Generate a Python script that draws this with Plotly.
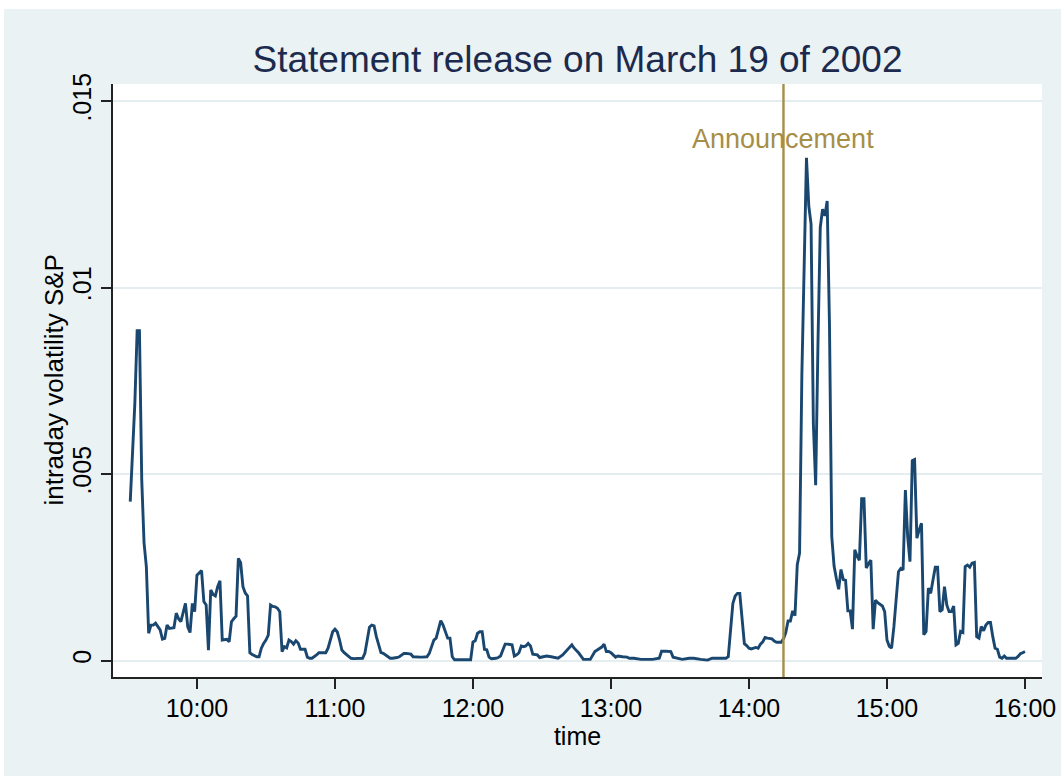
import pandas as pd
import plotly.graph_objects as go

# Minutes after 09:30 on 19 March 2002 and the intraday S&P volatility at each
minutes = [
    1, 3, 4, 5, 6, 7, 8, 9, 10, 11, 12, 13, 14, 15, 16, 17, 18, 19, 20,
    21, 22, 23, 24, 25, 26, 27, 28, 29, 30, 31, 32, 33, 34, 35, 36, 37, 38, 39, 40,
    41, 42, 43, 44, 45, 46, 47, 48, 49, 50, 51, 52, 53, 54, 55, 56, 57, 58, 59, 60,
    61, 62, 63, 64, 65, 66, 67, 68, 69, 70, 71, 72, 73, 74, 75, 76, 77, 78, 79, 80,
    81, 82, 83, 84, 85, 86, 87, 88, 89, 90, 91, 92, 93, 94, 95, 96, 97, 98, 99, 100,
    101, 102, 103, 104, 105, 106, 107, 108, 109, 110, 111, 112, 113, 114, 115, 116,
    117, 118, 119, 120, 121, 122, 123, 124, 125, 126, 127, 128, 129, 130,
    131, 132, 133, 134, 135, 136, 137, 138, 139, 140, 141, 142, 149, 150,
    151, 152, 153, 154, 155, 156, 157, 158, 159, 160, 161, 162, 163, 164, 165, 166,
    167, 168, 169, 170, 171, 172, 173, 174, 175, 176, 177, 178, 179, 180, 182, 184,
    186, 187, 189, 191, 193, 194, 196, 198, 201, 203, 204, 205, 206, 207, 208, 209,
    210, 212, 213, 215, 217, 218, 220, 223, 225, 228, 231, 232, 234, 236, 237, 239,
    241, 244, 246, 249, 252, 254, 257, 260, 261, 262, 263, 264, 265, 266, 267, 268,
    269, 270, 271, 272, 273, 274, 275, 276, 277, 278, 279, 280, 281, 282, 283, 284,
    285, 286, 287, 288, 289, 290, 291, 292, 293, 294, 295, 296, 297, 298, 299, 300,
    301, 302, 303, 304, 305, 306, 307, 308, 309, 310, 311, 312, 313, 314, 315, 316,
    317, 318, 319, 320, 321, 322, 323, 324, 325, 326, 327, 328, 329, 330, 331, 332,
    333, 334, 335, 336, 337, 338, 339, 340, 341, 342, 343, 344, 345, 346, 347, 348,
    349, 350, 351, 352, 353, 354, 355, 356, 357, 358, 359, 360, 361, 362, 363, 364,
    365, 366, 367, 368, 369, 370, 371, 372, 373, 374, 375, 376, 377, 378, 379, 380,
    381, 382, 384, 386, 387, 388, 389, 390,
]
volatility = [
    .00426, .0069, .00884, .00884, .00484, .00315, .00252, .00073, .00095, .00095,
    .00100, .00090, .00082, .00057, .00059, .00095, .00086, .00087, .00088,
    .00127, .00112, .00104, .00125, .00153, .00090, .00075, .00153, .00131, .00229,
    .00236, .00241, .00158, .00149, .00028, .00189, .00177, .00173, .00198, .00214,
    .00055, .00056, .00057, .00050, .00104, .00112, .00119, .00274, .00262, .00198,
    .00181, .00173, .00021, .00016, .00012, .00010, .00010, .00033, .00046, .00055,
    .00068, .00149, .00145, .00144, .00140, .00131, .00024, .00037, .00034, .00055,
    .00051, .00044, .00053, .00047, .00030, .00030, .00030, .00009, .00006, .00006,
    .00010, .00015, .00021, .00021, .00021, .00021, .00033, .00055, .00077, .00084,
    .00077, .00055, .00028, .00021, .00016, .00012, .00006, .00005, .00005, .00005,
    .00005, .00006, .00019, .00055, .00089, .00095, .00093, .00064, .00040, .00021,
    .00019, .00015, .00010, .00006, .00006, .00006,
    .00008, .00010, .00015, .00019, .00019, .00018, .00017, .00010, .00009, .00009,
    .00009, .00009, .00009, .00010,
    .00019, .00037, .00055, .00060, .00085, .00107, .00095, .00077, .00060, .00060,
    .00010, .00002, .00002, .00050,
    .00053, .00073, .00077, .00077, .00030, .00029, .00009, .00005, .00005, .00006,
    .00008, .00012, .00028, .00044, .00044, .00043,
    .00042, .00012, .00015, .00021, .00039, .00037, .00039, .00046, .00039, .00017,
    .00016, .00015, .00008, .00009, .00012, .00010,
    .00006, .00006, .00015, .00028, .00042, .00033, .00020, .00003, .00003, .00024,
    .00028, .00033, .00036, .00044, .00024, .00024,
    .00021, .00009, .00012, .00010, .00009, .00006, .00006, .00003, .00003, .00003,
    .00006, .00025, .00025, .00024, .00009, .00006,
    .00003, .00006, .00006, .00003, .00001, .00006, .00006, .00006, .00010, .00090,
    .00153, .00173, .00180, .00180, .00100, .00045,
    .00040, .00033, .00031, .00033, .00035, .00033, .00044, .00050, .00062, .00060,
    .00058, .00058, .00052, .00049, .00049, .00049,
    .00058, .00075, .00106, .00106, .00133, .00120, .00257, .00288, .00767, .01100,
    .01348, .01219, .01170, .00634, .00470, .00850,
    .01161, .01210, .01192, .01232, .00900, .00332, .00253, .00220, .00191, .00244,
    .00217, .00215, .00133, .00133, .00084, .00297,
    .00280, .00269, .00434, .00434, .00248, .00260, .00269, .00084, .00162, .00155,
    .00151, .00146, .00131, .00055, .00038, .00033,
    .00090, .00171, .00238, .00247, .00243, .00457, .00332, .00265, .00536, .00539,
    .00328, .00350, .00368, .00069, .00078, .00194,
    .00180, .00216, .00250, .00250, .00131, .00136, .00198, .00149, .00131, .00131,
    .00146, .00042, .00046, .00078, .00075, .00252,
    .00256, .00250, .00261, .00263, .00064, .00060, .00091, .00080, .00095, .00102,
    .00102, .00064, .00033, .00030, .00009, .00006,
    .00012, .00006, .00006, .00006, .00011, .00018, .00021, .00024,
]

session_open = "2002-03-19 09:30"
announcement_time = "2002-03-19 14:15"
x_ticks = ["10:00", "11:00", "12:00", "13:00", "14:00", "15:00", "16:00"]
y_ticks = [0, 0.005, 0.01, 0.015]
y_tick_text = ["0", ".005", ".01", ".015"]

times = pd.Timestamp(session_open) + pd.to_timedelta(minutes, unit="min")
tick_vals = [pd.Timestamp("2002-03-19 " + t) for t in x_ticks]

FONT = "Liberation Sans, Arial, sans-serif"
NAVY = "#1A476F"
GOLD = "#A68E47"
BG = "#EAF2F3"

W, H = 1061, 776
L, R, T, B = 113, 1042, 84, 677
pw, ph = R - L, B - T

fig = go.Figure()
fig.add_trace(go.Scatter(
    x=times, y=volatility, mode="lines",
    line=dict(color=NAVY, width=2.9), showlegend=False,
))

fig.add_shape(
    type="line", xref="x", yref="paper",
    x0=announcement_time, x1=announcement_time, y0=0, y1=1,
    line=dict(color=GOLD, width=2.4),
)
fig.add_annotation(
    x=announcement_time, y=0.01398, xref="x", yref="y",
    text="Announcement", showarrow=False,
    font=dict(family=FONT, size=27, color=GOLD),
    xanchor="center", yanchor="middle",
)

# y-axis title, placed to the left of the rotated tick labels
fig.add_annotation(
    x=(53 - L) / pw, y=0.5, xref="paper", yref="paper",
    text="intraday volatility S&P", textangle=-90, showarrow=False,
    font=dict(family=FONT, size=26, color="black"),
    xanchor="center", yanchor="middle",
)

# white margin strips along the top and left edges of the page
fig.add_shape(type="rect", xref="paper", yref="paper",
              x0=-L / pw - 0.01, x1=(W - L) / pw + 0.01,
              y0=(B - 9) / ph, y1=(B + 5) / ph,
              fillcolor="white", line_width=0, layer="above")
fig.add_shape(type="rect", xref="paper", yref="paper",
              x0=-L / pw - 0.01, x1=(4 - L) / pw,
              y0=(B - H) / ph - 0.01, y1=(B + 5) / ph,
              fillcolor="white", line_width=0, layer="above")

fig.update_layout(
    width=W, height=H,
    margin=dict(l=L, r=W - R, t=T, b=H - B, pad=0, autoexpand=False),
    paper_bgcolor=BG, plot_bgcolor="white",
    font=dict(family=FONT, color="black"),
    title=dict(
        text="Statement release on March 19 of 2002",
        x=0.5, xref="paper", xanchor="center",
        y=1 - 59 / H, yref="container", yanchor="middle",
        font=dict(family=FONT, size=37, color="#1C2A4E"),
    ),
    xaxis=dict(
        type="date", automargin=False,
        range=["2002-03-19 09:23:30", "2002-03-19 16:07:24"],
        tickvals=tick_vals, ticktext=x_ticks,
        ticks="outside", ticklen=10, tickwidth=1.5, tickcolor="#222222",
        tickfont=dict(size=25, color="black"), ticklabelstandoff=-2,
        showgrid=False, zeroline=False,
        showline=True, linecolor="#222222", linewidth=1.5,
        title=dict(text="time", font=dict(size=25, color="black"), standoff=6),
    ),
    yaxis=dict(
        automargin=False,
        range=[-0.000442, 0.015456],
        tickvals=y_ticks, ticktext=y_tick_text, tickangle=-90,
        ticks="outside", ticklen=10, tickwidth=1.5, tickcolor="#222222",
        tickfont=dict(size=25, color="black"),
        showgrid=True, gridcolor="#E4EEF0", gridwidth=2,
        zeroline=False,
        showline=True, linecolor="#222222", linewidth=1.5,
    ),
)

fig.write_html("out.html")
